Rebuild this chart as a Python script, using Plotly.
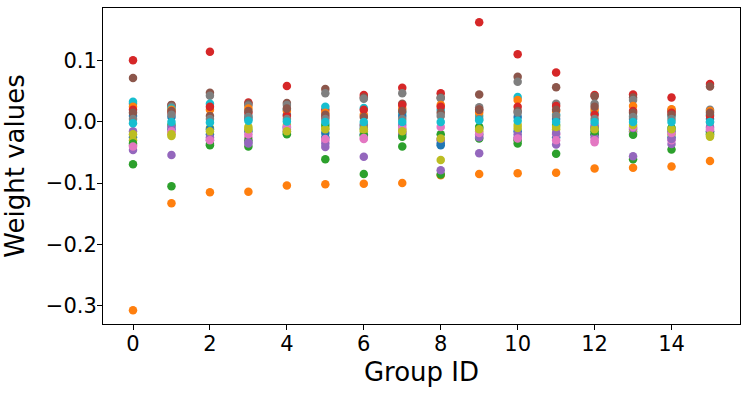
import plotly.graph_objects as go

group_ids = list(range(16))

# one list of weights per feature, one value per group
w00 = [-0.025, -0.012, -0.020, -0.015, -0.008, -0.025, -0.020, -0.018, -0.038, -0.020, -0.015, -0.025, -0.020, -0.015, -0.025, -0.015]
w01 = [-0.308, -0.133, -0.115, -0.114, -0.104, -0.102, -0.101, -0.100, -0.087, -0.085, -0.084, -0.083, -0.076, -0.075, -0.073, -0.064]
w02 = [-0.069, -0.105, -0.038, -0.040, -0.020, -0.061, -0.085, -0.040, -0.086, -0.027, -0.035, -0.052, -0.020, -0.061, -0.045, -0.018]
w03 = [0.101, 0.027, 0.115, 0.032, 0.059, 0.020, 0.044, 0.056, 0.047, 0.163, 0.111, 0.081, 0.044, 0.045, 0.040, 0.062]
w04 = [-0.046, -0.054, -0.030, -0.035, -0.015, -0.041, -0.057, -0.020, -0.079, -0.051, -0.020, -0.037, -0.025, -0.056, -0.036, -0.015]
w05 = [0.072, 0.028, 0.048, 0.030, 0.031, 0.054, 0.040, 0.030, 0.040, 0.045, 0.074, 0.057, 0.042, 0.040, 0.018, 0.058]
w06 = [-0.038, -0.018, -0.028, -0.025, -0.012, -0.030, -0.028, -0.015, -0.030, -0.022, -0.028, -0.020, -0.033, -0.018, -0.030, -0.010]
w07 = [0.030, 0.025, 0.043, 0.027, 0.028, 0.047, 0.038, 0.047, 0.039, 0.024, 0.066, 0.030, 0.030, 0.036, 0.020, 0.020]
w08 = [-0.030, -0.023, -0.010, -0.008, -0.005, -0.010, -0.015, -0.012, -0.062, -0.015, -0.010, -0.012, -0.008, -0.012, -0.020, -0.024]
w09 = [0.033, 0.022, 0.030, 0.010, 0.020, 0.025, 0.023, 0.015, 0.020, 0.010, 0.041, 0.012, 0.015, 0.010, 0.010, 0.012]
w10 = [0.010, 0.008, -0.012, 0.005, 0.012, -0.018, -0.010, 0.010, -0.035, -0.010, 0.008, 0.005, -0.010, 0.005, -0.015, 0.005]
w11 = [0.025, 0.020, 0.020, 0.022, 0.018, 0.015, 0.012, 0.022, 0.028, 0.015, 0.036, 0.018, 0.020, 0.026, 0.021, 0.018]
w12 = [-0.035, -0.005, -0.036, -0.030, -0.018, -0.005, -0.022, -0.024, -0.020, -0.008, -0.030, -0.005, -0.015, -0.021, -0.010, -0.020]
w13 = [0.020, 0.015, 0.025, 0.015, 0.010, 0.008, 0.020, 0.028, 0.025, 0.020, 0.025, 0.026, 0.012, 0.018, 0.015, 0.010]
w14 = [-0.015, -0.008, -0.025, -0.033, -0.010, -0.035, -0.005, -0.005, -0.028, -0.025, -0.025, -0.018, -0.005, -0.010, -0.028, -0.008]
w15 = [0.015, 0.018, 0.010, 0.018, 0.022, 0.012, 0.008, 0.018, 0.015, 0.020, 0.018, 0.020, 0.025, 0.015, 0.012, 0.015]
w16 = [-0.040, -0.015, -0.030, -0.020, -0.008, -0.028, -0.026, -0.010, -0.008, -0.018, -0.027, -0.030, -0.030, -0.008, -0.018, -0.012]
w17 = [0.005, 0.012, 0.005, 0.008, 0.005, 0.005, -0.005, 0.005, 0.010, 0.005, 0.015, 0.010, 0.005, 0.008, 0.005, 0.000]
w18 = [-0.020, -0.020, -0.015, -0.012, -0.015, -0.012, -0.012, -0.015, -0.027, -0.012, -0.005, -0.008, -0.012, -0.005, -0.012, -0.022]
w19 = [-0.002, 0.000, -0.001, 0.002, 0.001, 0.000, 0.000, 0.000, 0.000, 0.003, 0.002, 0.000, 0.000, 0.000, 0.000, 0.000]

weights = [w00, w01, w02, w03, w04, w05, w06, w07, w08, w09,
           w10, w11, w12, w13, w14, w15, w16, w17, w18, w19]

tab10 = ['#1f77b4', '#ff7f0e', '#2ca02c', '#d62728', '#9467bd',
         '#8c564b', '#e377c2', '#7f7f7f', '#bcbd22', '#17becf']

fig = go.Figure()
for i, w in enumerate(weights):
    fig.add_trace(go.Scatter(x=group_ids, y=w, mode='markers',
                             marker=dict(size=8.5, color=tab10[i % 10], line=dict(width=0)),
                             showlegend=False))

axis_style = dict(showline=True, linecolor='black', linewidth=1, mirror=True,
                  ticks='outside', ticklen=5, tickcolor='black', showgrid=False,
                  zeroline=False, tickfont=dict(size=21, color='black'))

fig.update_layout(width=748, height=395,
                  margin=go.layout.Margin(l=103, r=8, t=8, b=71),
                  plot_bgcolor='white', paper_bgcolor='white',
                  font=dict(family='DejaVu Sans', color='black'),
                  xaxis=dict(range=[-0.78, 15.78], dtick=2, tick0=0, ticklabelstandoff=-4,
                             title=dict(text='Group ID', font=dict(size=26), standoff=7),
                             **axis_style),
                  yaxis=dict(range=[-0.3305, 0.1865], dtick=0.1, tick0=0, tickformat='.1f',
                             ticklabelstandoff=-4,
                             title=dict(text='Weight values', font=dict(size=26), standoff=13),
                             **axis_style))

# page body has an 8px default margin; drop it so the figure sits at the corner
fig.write_html("out.html", config={'displayModeBar': False},
               post_script="document.body.style.margin='0';")
